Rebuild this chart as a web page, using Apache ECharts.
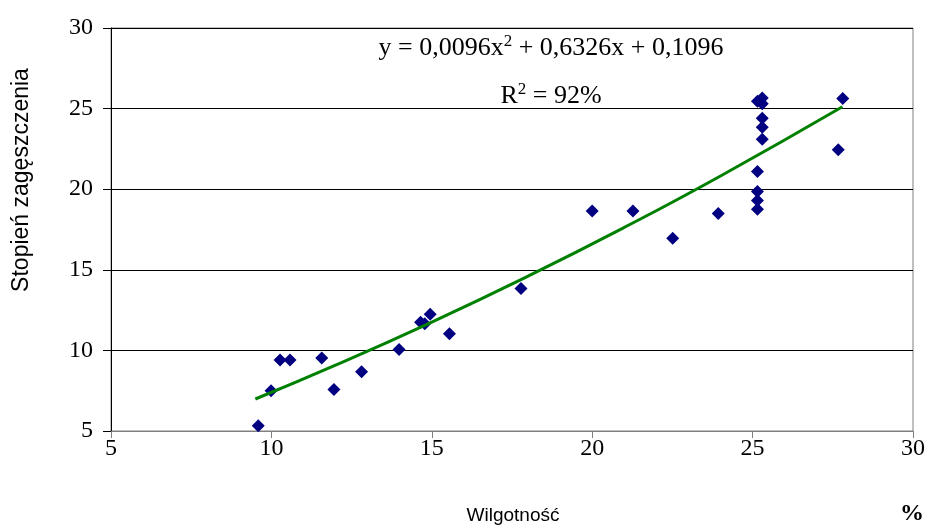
<!DOCTYPE html>
<html><head><meta charset="utf-8">
<script src="https://cdn.jsdelivr.net/npm/echarts@6/dist/echarts.min.js"></script>
<style>html,body{margin:0;padding:0;background:#fff}#c{width:932px;height:529px}</style>
</head><body><div id="c"></div>
<script>
// Measured points: moisture (%) vs compaction degree
const moisture   = [9.59, 9.99, 10.27, 10.58, 11.57, 11.95, 12.81, 13.98, 14.65, 14.78, 14.95, 15.55, 17.78, 20.0, 21.27, 22.51, 23.93, 25.15, 25.3, 25.3, 25.3, 25.3, 25.3, 25.15, 25.15, 25.15, 25.15, 27.67, 27.81];
const compaction = [5.33, 7.5, 9.4, 9.4, 9.53, 7.58, 8.68, 10.05, 11.75, 11.65, 12.25, 11.04, 13.84, 18.65, 18.65, 16.95, 18.5, 25.45, 25.65, 25.3, 24.4, 23.85, 23.1, 21.1, 19.85, 19.3, 18.75, 22.45, 25.62];
// Trend line points (polynomial trendline shown on chart)
const trendX = [9.5, 12, 15, 18, 21, 24, 27.8];
const trendY = [6.986, 9.083, 11.759, 14.607, 17.628, 20.822, 25.115];
const axisTicks = [5, 10, 15, 20, 25, 30];

const scatterData = moisture.map((x, i) => [x, compaction[i]]);
const trendData = trendX.map((x, i) => [x, trendY[i]]);

const chart = echarts.init(document.getElementById('c'), null, {renderer: 'canvas'});
const serif = '"Liberation Serif", "Times New Roman", serif';
const sans = '"Liberation Sans", Arial, sans-serif';
chart.setOption({
  animation: false,
  backgroundColor: '#fff',
  grid: {left: 111, right: 19, top: 28, bottom: 98, show: true, borderColor: '#808080', borderWidth: 1},
  xAxis: {
    type: 'value', min: axisTicks[0], max: axisTicks[axisTicks.length - 1], interval: 5,
    axisLine: {show: true, onZero: false, lineStyle: {color: '#808080', width: 1}},
    axisTick: {show: true, inside: false, length: 7, lineStyle: {color: '#808080'}},
    axisLabel: {color: '#000', fontFamily: serif, fontSize: 24, margin: 6},
    splitLine: {show: false}
  },
  yAxis: {
    type: 'value', min: axisTicks[0], max: axisTicks[axisTicks.length - 1], interval: 5,
    axisLine: {show: true, onZero: false, lineStyle: {color: '#000', width: 1}},
    axisTick: {show: true, inside: false, length: 8, lineStyle: {color: '#000'}},
    axisLabel: {color: '#000', fontFamily: serif, fontSize: 24, margin: 18},
    splitLine: {show: true, lineStyle: {color: '#000', width: 1}}
  },
  series: [
    {
      type: 'scatter', data: scatterData, symbol: 'diamond', symbolSize: [13, 13],
      itemStyle: {color: '#000080', opacity: 1}, z: 3
    },
    {
      type: 'line', data: trendData, showSymbol: false, smooth: true,
      lineStyle: {color: '#008000', width: 3}, z: 4
    }
  ],
  graphic: [
    {type: 'text', x: 551, y: 48, style: {
      text: '{n|y = 0,0096x}{s|2}{n| + 0,6326x + 0,1096}',
      align: 'center', verticalAlign: 'middle',
      rich: {n: {fontFamily: serif, fontSize: 26, fill: '#000'}, s: {fontFamily: serif, fontSize: 17, fill: '#000', padding: [0,0,12,0]}}
    }},
    {type: 'text', x: 551, y: 96, style: {
      text: '{n|R}{s|2}{n| = 92%}',
      align: 'center', verticalAlign: 'middle',
      rich: {n: {fontFamily: serif, fontSize: 26, fill: '#000'}, s: {fontFamily: serif, fontSize: 17, fill: '#000', padding: [0,0,12,0]}}
    }},
    {type: 'text', x: 22, y: 180, rotation: Math.PI / 2, style: {
      text: 'Stopień zagęszczenia', fontFamily: sans, fontSize: 23, fill: '#000',
      align: 'center', verticalAlign: 'middle'
    }},
    {type: 'text', x: 513, y: 516, style: {
      text: 'Wilgotność', fontFamily: sans, fontSize: 19, fill: '#000',
      align: 'center', verticalAlign: 'middle'
    }},
    {type: 'text', x: 912, y: 514, style: {
      text: '%', fontFamily: serif, fontSize: 24, fontWeight: 'bold', fill: '#000',
      align: 'center', verticalAlign: 'middle'
    }}
  ]
});
</script></body></html>
